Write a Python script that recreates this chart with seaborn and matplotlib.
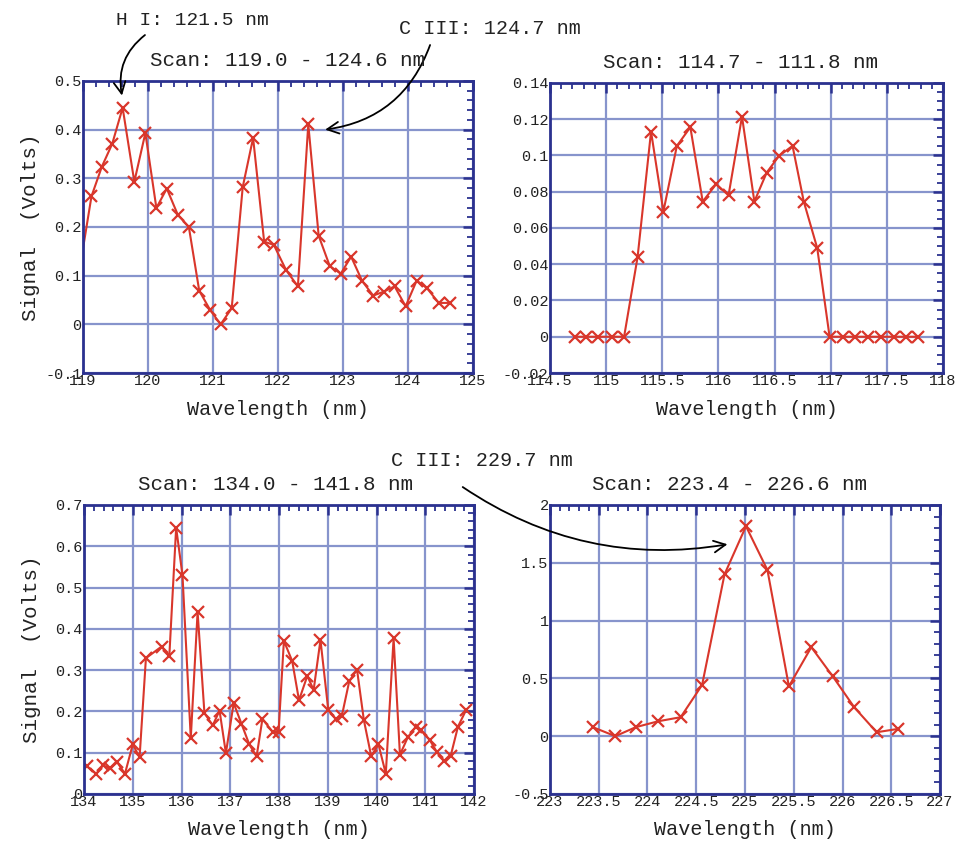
import matplotlib
matplotlib.use('Agg')
import matplotlib.pyplot as plt
from matplotlib.ticker import MultipleLocator, FuncFormatter
import seaborn as sns

# Scan 1: 119.0 - 124.6 nm
wl1 = [118.90, 119.13, 119.29, 119.45, 119.61, 119.79, 119.96, 120.13, 120.29, 120.46,
       120.63, 120.79, 120.96, 121.12, 121.29, 121.46, 121.62, 121.79, 121.94, 122.13,
       122.31, 122.47, 122.63, 122.80, 122.97, 123.13, 123.30, 123.47, 123.63, 123.80,
       123.97, 124.14, 124.30, 124.48, 124.65]
sig1 = [0.074, 0.263, 0.324, 0.371, 0.445, 0.293, 0.393, 0.239, 0.279, 0.225,
        0.200, 0.069, 0.029, 0.000, 0.033, 0.282, 0.383, 0.170, 0.163, 0.111,
        0.078, 0.411, 0.182, 0.120, 0.104, 0.139, 0.089, 0.059, 0.067, 0.078,
        0.037, 0.090, 0.074, 0.044, 0.044]

# Scan 2: 114.7 - 111.8 nm
wl2 = [114.72, 114.82, 114.93, 115.05, 115.16, 115.28, 115.40, 115.51, 115.63, 115.75,
       115.86, 115.98, 116.09, 116.21, 116.32, 116.43, 116.54, 116.66, 116.76, 116.88,
       116.99, 117.11, 117.22, 117.33, 117.45, 117.56, 117.67, 117.78]
sig2 = [0.0, 0.0, 0.0, 0.0, 0.0, 0.0439, 0.1132, 0.0691, 0.1053, 0.1156,
        0.0746, 0.0842, 0.078, 0.1215, 0.0746, 0.0906, 0.0998, 0.1053, 0.0746, 0.0489,
        0.0, 0.0, 0.0, 0.0, 0.0, 0.0, 0.0, 0.0]

# Scan 3: 134.0 - 141.8 nm
wl3 = [134.06, 134.25, 134.39, 134.54, 134.68, 134.84, 135.00, 135.14, 135.27, 135.59,
       135.75, 135.89, 136.02, 136.19, 136.33, 136.47, 136.64, 136.78, 136.91, 137.07,
       137.23, 137.39, 137.54, 137.66, 137.87, 137.99, 138.10, 138.27, 138.41, 138.58,
       138.71, 138.85, 139.01, 139.16, 139.29, 139.44, 139.60, 139.74, 139.89, 140.04,
       140.19, 140.35, 140.48, 140.64, 140.80, 140.91, 141.09, 141.24, 141.39, 141.52,
       141.67, 141.84]
sig3 = [0.067, 0.049, 0.069, 0.063, 0.077, 0.049, 0.120, 0.089, 0.329, 0.357,
        0.334, 0.645, 0.530, 0.135, 0.441, 0.196, 0.166, 0.202, 0.099, 0.220,
        0.170, 0.120, 0.091, 0.182, 0.150, 0.150, 0.371, 0.322, 0.227, 0.286,
        0.252, 0.373, 0.204, 0.182, 0.190, 0.273, 0.301, 0.179, 0.092, 0.120,
        0.049, 0.377, 0.095, 0.137, 0.162, 0.154, 0.131, 0.101, 0.080, 0.092,
        0.163, 0.204]

# Scan 4: 223.4 - 226.6 nm
wl4 = [223.44, 223.67, 223.88, 224.11, 224.34, 224.56, 224.79, 225.01, 225.23, 225.45,
       225.68, 225.90, 226.12, 226.35, 226.57]
sig4 = [0.078, 0.0, 0.078, 0.129, 0.164, 0.443, 1.40, 1.816, 1.437, 0.431,
        0.770, 0.517, 0.250, 0.034, 0.063]

titles = ['Scan: 119.0 - 124.6 nm', 'Scan: 114.7 - 111.8 nm',
          'Scan: 134.0 - 141.8 nm', 'Scan: 223.4 - 226.6 nm']

sns.set_theme(style='white')
plt.rcParams['font.family'] = ['Liberation Mono', 'DejaVu Sans']
plt.rcParams['axes.unicode_minus'] = False

navy = '#2b318f'
gridc = '#8794cc'
red = '#d9362b'
txt = '#222222'

fig = plt.figure(figsize=(9.6, 8.46), dpi=100)

# axes boxes (left, bottom, width, height) in figure fraction
boxes = [(0.0865, 0.5591, 0.4057, 0.3452),
         (0.5729, 0.5591, 0.4094, 0.3428),
         (0.0875, 0.0615, 0.4063, 0.3416),
         (0.5729, 0.0615, 0.4063, 0.3416)]
data = [(wl1, sig1), (wl2, sig2), (wl3, sig3), (wl4, sig4)]
xlims = [(119, 125), (114.5, 118), (134, 142), (223, 227)]
ylims = [(-0.1, 0.5), (-0.02, 0.14), (0, 0.7), (-0.5, 2)]
xmaj = [1, 0.5, 1, 0.5]
xmin = [0.2, 0.1, 0.2, 0.1]
ymaj = [0.1, 0.02, 0.1, 0.5]
ymin = [0.02, 0.005, 0.02, 0.1]
title_x = [0.525, 0.485, 0.49, 0.46]

fmt = FuncFormatter(lambda v, p: f'{round(v, 6):g}')

axes = []
for i in range(4):
    ax = fig.add_axes(boxes[i])
    x, y = data[i]
    sns.lineplot(x=x, y=y, ax=ax, color=red, linewidth=1.5, marker='x',
                 markersize=9, markeredgecolor=red, markeredgewidth=1.6)
    ax.set_xlim(*xlims[i])
    ax.set_ylim(*ylims[i])
    ax.xaxis.set_major_locator(MultipleLocator(xmaj[i]))
    ax.xaxis.set_minor_locator(MultipleLocator(xmin[i]))
    ax.yaxis.set_major_locator(MultipleLocator(ymaj[i]))
    ax.yaxis.set_minor_locator(MultipleLocator(ymin[i]))
    ax.xaxis.set_major_formatter(fmt)
    ax.yaxis.set_major_formatter(fmt)
    ax.grid(True, which='major', color=gridc, linewidth=1.6)
    ax.set_axisbelow(True)
    ax.tick_params(which='both', direction='in', top=True, right=True,
                   color=navy, labelsize=11, labelcolor=txt)
    ax.tick_params(which='major', length=7, width=1.8, pad=1)
    ax.tick_params(which='minor', length=4, width=1.3)
    for s in ax.spines.values():
        s.set_color(navy)
        s.set_linewidth(2)
    ax.set_title(titles[i], fontsize=15, pad=11, color=txt, x=title_x[i])
    ax.set_xlabel('Wavelength (nm)', fontsize=14.5, labelpad=8, color=txt)
    if i in (0, 2):
        ax.set_ylabel('Signal  (Volts)', fontsize=15, color=txt)
        ax.yaxis.set_label_coords(-0.11, 0.5)
    else:
        ax.set_ylabel('')
    axes.append(ax)

# line identifications with curved arrows
arrow = dict(arrowstyle='->,head_length=0.7,head_width=0.35', color='black', lw=1.3,
             shrinkA=0, shrinkB=0)
fig.text(0.200, 0.976, 'H I: 121.5 nm', ha='center', va='center', fontsize=14, color=txt)
axes[0].annotate('', xy=(119.6, 0.47), xycoords='data', xytext=(0.151, 0.9586),
                 textcoords='figure fraction', annotation_clip=False,
                 arrowprops=dict(arrow, connectionstyle='arc3,rad=0.3'))
fig.text(0.510, 0.966, 'C III: 124.7 nm', ha='center', va='center', fontsize=14.5, color=txt)
axes[0].annotate('', xy=(122.73, 0.40), xycoords='data', xytext=(0.448, 0.9468),
                 textcoords='figure fraction', annotation_clip=False,
                 arrowprops=dict(arrow, connectionstyle='arc3,rad=-0.3'))
fig.text(0.502, 0.456, 'C III: 229.7 nm', ha='center', va='center', fontsize=14.5, color=txt)
axes[3].annotate('', xy=(224.82, 1.66), xycoords='data', xytext=(0.482, 0.4243),
                 textcoords='figure fraction', annotation_clip=False,
                 arrowprops=dict(arrow, connectionstyle='arc3,rad=0.2'))

fig.savefig('out.png', dpi=100, facecolor='white')
